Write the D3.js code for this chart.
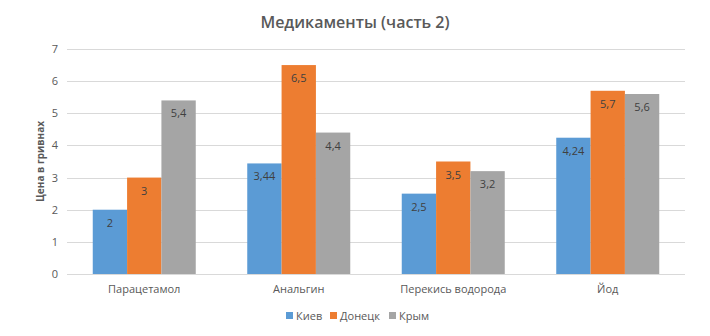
<!DOCTYPE html>
<html>
<head>
<meta charset="utf-8">
<script src="https://cdn.jsdelivr.net/npm/d3@7"></script>
<style>
  html, body { margin: 0; padding: 0; background: #fff; }
  svg { display: block; font-family: "Open Sans", "Liberation Sans", sans-serif; }
</style>
</head>
<body>
<svg id="chart" width="710" height="336"></svg>
<script>
const categories = ["Парацетамол", "Анальгин", "Перекись водорода", "Йод"];
const seriesNames = ["Киев", "Донецк", "Крым"];
const kiev = [2, 3.44, 2.5, 4.24];
const donetsk = [3, 6.5, 3.5, 5.7];
const crimea = [5.4, 4.4, 3.2, 5.6];
const yTicks = [0, 1, 2, 3, 4, 5, 6, 7];
const colors = ["#5B9BD5", "#ED7D31", "#A5A5A5"];

const seriesValues = [kiev, donetsk, crimea];
const fmt = v => String(v).replace(".", ",");

const svg = d3.select("#chart");
const margin = { left: 67, right: 25, top: 49, bottom: 62 };
const W = 710, H = 336;

const x = d3.scaleBand().domain(categories).range([margin.left, W - margin.right]);
const y = d3.scaleLinear().domain([0, 7]).range([H - margin.bottom, margin.top]);

// Bar width: three bars plus a 150% gap per category
const barW = x.bandwidth() / 4.5;
const xs = d3.scaleBand().domain(seriesNames)
  .range([0, barW * 3]);

// Title
svg.append("text")
  .attr("x", 355).attr("y", 28)
  .attr("text-anchor", "middle")
  .attr("font-size", 16).attr("font-weight", 600)
  .attr("fill", "#595959")
  .text("Медикаменты (часть 2)");

// Gridlines
svg.append("g")
  .selectAll("line").data(yTicks).join("line")
  .attr("x1", margin.left).attr("x2", W - margin.right)
  .attr("y1", d => Math.round(y(d)) + 0.5).attr("y2", d => Math.round(y(d)) + 0.5)
  .attr("stroke", "#D9D9D9").attr("stroke-width", 1);

// Y axis tick labels
const yAxis = svg.append("g")
  .attr("transform", `translate(${margin.left - 9},0)`)
  .call(d3.axisLeft(y).tickValues(yTicks).tickSize(0).tickPadding(0).tickFormat(d => d));
yAxis.select(".domain").remove();
yAxis.selectAll("text").attr("font-size", 11).attr("fill", "#595959")
  .attr("font-family", "'Open Sans', sans-serif");

// Y axis title
svg.append("text")
  .attr("transform", `translate(44,${(margin.top + H - margin.bottom) / 2}) rotate(-90)`)
  .attr("text-anchor", "middle")
  .attr("font-size", 10).attr("font-weight", 700)
  .attr("fill", "#595959")
  .text("Цена в гривнах");

// X axis category labels
const xAxis = svg.append("g")
  .attr("transform", `translate(0,${H - margin.bottom})`)
  .call(d3.axisBottom(x).tickSize(0).tickPadding(11));
xAxis.select(".domain").remove();
xAxis.selectAll("text").attr("font-size", 11).attr("fill", "#595959")
  .attr("font-family", "'Open Sans', sans-serif");

// Bars
const groups = svg.append("g").selectAll("g").data(categories).join("g")
  .attr("transform", c => `translate(${x(c) + (x.bandwidth() - barW * 3) / 2},0)`);

seriesNames.forEach((s, si) => {
  groups.append("rect")
    .attr("x", xs(s))
    .attr("width", xs.bandwidth())
    .attr("y", (c, ci) => y(seriesValues[si][ci]))
    .attr("height", (c, ci) => y(0) - y(seriesValues[si][ci]))
    .attr("fill", colors[si]);
  groups.append("text")
    .attr("x", xs(s) + xs.bandwidth() / 2)
    .attr("y", (c, ci) => y(seriesValues[si][ci]) + 17)
    .attr("text-anchor", "middle")
    .attr("font-size", 11)
    .attr("fill", "#404040")
    .text((c, ci) => fmt(seriesValues[si][ci]));
});

// Legend
const legendX = [286, 330, 389];
const legend = svg.append("g").selectAll("g").data(seriesNames).join("g")
  .attr("transform", (d, i) => `translate(${legendX[i]},316)`);
legend.append("rect")
  .attr("x", 0).attr("y", -4).attr("width", 7).attr("height", 7)
  .attr("fill", (d, i) => colors[i]);
legend.append("text")
  .attr("x", 10).attr("y", 4)
  .attr("font-size", 11).attr("fill", "#595959")
  .text(d => d);
</script>
</body>
</html>
